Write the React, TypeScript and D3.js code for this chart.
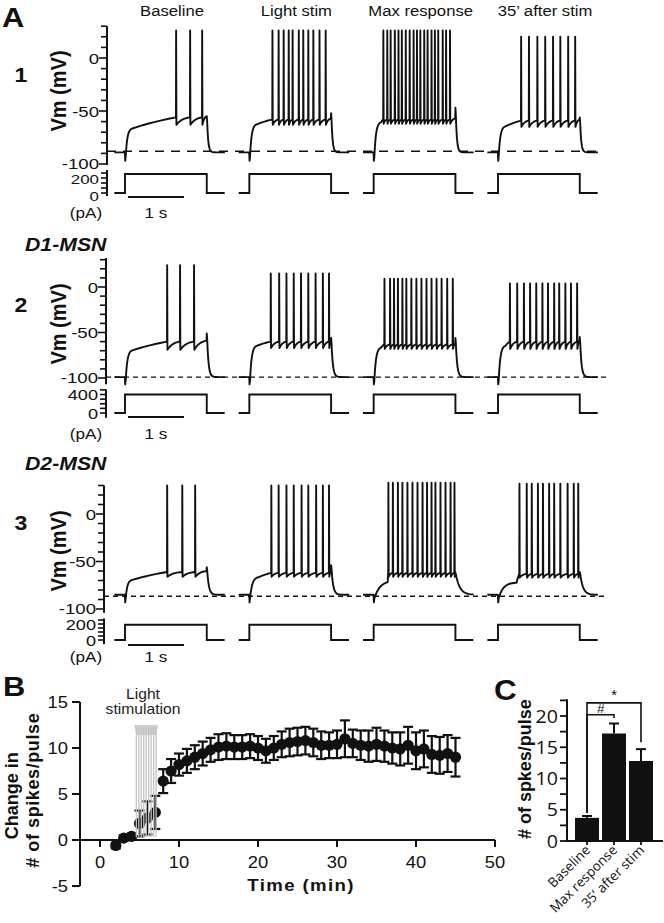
import React from "react";
import * as d3 from "d3";

// ---------------- DATA ----------------
const conditions = ["Baseline", "Light stim", "Max response", "35\u2019 after stim"];
const cellNumbers = ["1", "2", "3"];
const cellTypes = ["", "D1-MSN", "D2-MSN"];

// spike times (s, relative to current-step onset)
const cell1Spikes = [
  [0.91, 1.16, 1.375],
  [0.41, 0.52, 0.61, 0.7, 0.77, 0.88, 0.96, 1.05, 1.14, 1.25, 1.36],
  [0.17, 0.24, 0.3, 0.375, 0.44, 0.5, 0.57, 0.64, 0.71, 0.77, 0.83, 0.9, 0.96, 1.03, 1.09, 1.15, 1.23, 1.29, 1.36],
  [0.41, 0.55, 0.7, 0.84, 0.98, 1.11, 1.25, 1.375],
];
const cell2Spikes = [
  [0.75, 0.98, 1.23],
  [0.38, 0.53, 0.66, 0.79, 0.92, 1.05, 1.18, 1.31, 1.42],
  [0.19, 0.29, 0.36, 0.43, 0.51, 0.58, 0.67, 0.76, 0.85, 0.94, 1.03, 1.12, 1.21, 1.31, 1.41],
  [0.21, 0.34, 0.46, 0.57, 0.68, 0.79, 0.89, 1.0, 1.09, 1.2, 1.3, 1.41],
];
const cell3Spikes = [
  [0.75, 1.02, 1.25],
  [0.39, 0.52, 0.66, 0.79, 0.93, 1.05, 1.19, 1.31, 1.42],
  [0.26, 0.34, 0.43, 0.51, 0.6, 0.69, 0.78, 0.87, 0.95, 1.03, 1.1, 1.19, 1.28, 1.37, 1.44],
  [0.38, 0.51, 0.6, 0.71, 0.8, 0.91, 1.0, 1.11, 1.24, 1.35, 1.43],
];
// membrane potentials (mV) per condition
const cell1Peak = [26, 26, 26, 20];
const cell1Plateau = [-66, -62, -60, -64];
const cell1Thresh = [-56, -58, -58, -59];
const cell1Trough = [-63, -63, -62, -65];
const cell1Offset = [-55, -52, -47, -56];
const cell2Peak = [24, 15, 9, 4];
const cell2Plateau = [-69, -64, -66, -64];
const cell2Thresh = [-60, -60, -63, -60];
const cell2Trough = [-69, -67, -68, -68];
const cell2Offset = [-51, -56, -56, -55];
const cell3Peak = [30, 30, 33, 32];
const cell3Plateau = [-69, -66, -70, -72];
const cell3Thresh = [-61, -62, -62, -63];
const cell3Trough = [-66, -66, -66, -67];
const cell3Offset = [-56, -54, -62, -61];
const cellRest = [-89, -99, -85];
const cellStepPA = [380, 400, 190];
const cellRiseTau = [
  [0.03, 0.03, 0.03, 0.03],
  [0.03, 0.03, 0.03, 0.03],
  [0.03, 0.04, 0.1, 0.08],
];
const cellDecayTau = [
  [0.02, 0.02, 0.02, 0.02],
  [0.025, 0.025, 0.025, 0.025],
  [0.03, 0.03, 0.07, 0.05],
];
const baselineDashMV = [-88, -99, -86.5];

// Panel B
const timeMin = [2, 3, 4, 5, 6, 7, 8, 9, 10, 11, 12, 13, 14, 15, 16, 17, 18, 19, 20, 21, 22, 23, 24, 25, 26, 27, 28, 29, 30, 31, 32, 33, 34, 35, 36, 37, 38, 39, 40, 41, 42, 43, 44, 45];
const spikeChange = [-0.6, 0.2, 0.4, 1.8, 2.4, 3.0, 6.4, 7.5, 8.2, 8.6, 9.0, 9.4, 9.8, 10.1, 10.2, 10.1, 10.1, 10.2, 10.0, 9.7, 10.0, 10.4, 10.6, 10.7, 10.8, 10.6, 10.3, 10.3, 10.4, 11.0, 10.5, 10.3, 10.2, 10.4, 10.2, 10.0, 9.9, 10.3, 9.7, 9.9, 9.3, 9.2, 9.4, 9.0];
const spikeChangeSem = [0.3, 0.3, 0.3, 1.4, 1.8, 1.8, 1.3, 1.3, 1.2, 1.3, 1.3, 1.3, 1.3, 1.4, 1.4, 1.3, 1.3, 1.3, 1.3, 1.3, 1.3, 1.4, 1.5, 1.5, 1.5, 1.5, 1.5, 1.4, 1.5, 2.0, 1.5, 1.6, 1.7, 1.8, 1.7, 1.7, 1.8, 2.0, 2.0, 2.0, 2.0, 2.0, 2.0, 2.1];
const bXTicks = [0, 10, 20, 30, 40, 50];
const bYTicks = [-5, 0, 5, 10, 15];
const lightStimMin = [4.6, 7.1];

// Panel C
const cCategories = ["Baseline", "Max response", "35\u2019 after stim"];
const cMeans = [3.7, 17.2, 12.8];
const cSem = [0.3, 1.6, 1.9];
const cYTicks = [0, 5, 10, 15, 20];
const cBracketLabels = ["#", "*"];
const cBracketTargets = [1, 2];
const cBracketLevels = [20.2, 22.1];
const cBracketDrops = [19.7, 15.8];

// ---------------- LAYOUT ----------------
const ARIAL = "'Liberation Sans', Arial, Helvetica, sans-serif";
const OPEN = "'Open Sans', 'Liberation Sans', sans-serif";
const PRE = 0.19, STEP = 1.46, POST = 0.32;

const rowLayout = [
  { v0: 58, v100: 164, vTop: 30, vBot: -101, axisX: 107, i0: 193, iPerPA: 0.05, iTop: 460, iBot: -60, iTick: 100, iLabels: [200, 0], iLabelDy: [1, 7.5], iLabelSize: 13.5, dash: "9,7", dashEnd: 597, pAy: 218, barY: 197, numY: 82, typeY: 0, vmY: 91 },
  { v0: 287, v100: 378, vTop: 32, vBot: -107, axisX: 106, i0: 413, iPerPA: 0.04625, iTop: 510, iBot: -100, iTick: 100, iLabels: [400, 0], iLabelDy: [5, 6], iLabelSize: 14.5, dash: "5,4", dashEnd: 607, pAy: 439, barY: 417, numY: 312, typeY: 251, vmY: 324 },
  { v0: 514, v100: 609, vTop: 30, vBot: -104, axisX: 104, i0: 640, iPerPA: 0.08, iTop: 270, iBot: -50, iTick: 50, iLabels: [200, 0], iLabelDy: [5.5, 5.5], iLabelSize: 14.5, dash: "5,4", dashEnd: 605, pAy: 662, barY: 645, numY: 530, typeY: 470, vmY: 551 },
];

function Txt(props: any) {
  const { x, y, size, children, anchor = "start", weight = "normal", family = ARIAL, sx = 1.18, rot = 0, italic = false, fill = "#111", ls = 0 } = props;
  const transform = rot
    ? `translate(${x},${y}) rotate(${rot}) scale(1,${sx})`
    : `translate(${x},${y}) scale(${sx},1)`;
  return (
    <text transform={transform} fontSize={size} fontWeight={weight} fontFamily={family} textAnchor={anchor}
      fill={fill} fontStyle={italic ? "italic" : "normal"} letterSpacing={ls}>
      {children}
    </text>
  );
}

function tracePoints(spikes: number[], peak: number, plateau: number, thresh: number, trough: number,
  offset: number, rest: number, riseTau: number, decayTau: number): [number, number][] {
  const pts: [number, number][] = [];
  pts.push([-PRE, rest], [-0.002, rest], [0.004, rest - 8], [0.012, rest - 4]);
  const first = spikes.length ? spikes[0] : STEP;
  const tRiseEnd = Math.min(first - 0.01, 0.012 + 4 * riseTau);
  for (let k = 1; k <= 12; k++) {
    const t = 0.012 + ((tRiseEnd - 0.012) * k) / 12;
    pts.push([t, plateau + (rest - 4 - plateau) * Math.exp(-(t - 0.012) / riseTau)]);
  }
  let t0 = tRiseEnd;
  let v0 = pts[pts.length - 1][1];
  const approach = (t1: number, v1: number, curv: number) => {
    for (let k = 1; k <= 6; k++) {
      const f = k / 6;
      pts.push([t0 + (t1 - t0) * f, v0 + ((v1 - v0) * (1 - Math.exp(-curv * f))) / (1 - Math.exp(-curv))]);
    }
  };
  spikes.forEach((s, i) => {
    approach(s, thresh, i === 0 ? 0.6 : 2.2);
    pts.push([s + 0.003, peak], [s + 0.008, trough]);
    t0 = s + 0.008;
    v0 = trough;
  });
  if (STEP - 0.004 - t0 > 0.005) approach(STEP - 0.004, spikes.length ? thresh + 1 : thresh, spikes.length ? 2.2 : 0.6);
  pts.push([STEP, offset]);
  for (let k = 1; k <= 16; k++) {
    const t = STEP + 0.004 + POST * Math.pow(k / 16, 1.6);
    pts.push([t, rest + (offset - rest) * Math.exp(-(t - STEP - 0.004) / decayTau)]);
  }
  return pts;
}

export default function App() {
  const cells = [
    { spikes: cell1Spikes, peak: cell1Peak, plateau: cell1Plateau, thresh: cell1Thresh, trough: cell1Trough, offset: cell1Offset },
    { spikes: cell2Spikes, peak: cell2Peak, plateau: cell2Plateau, thresh: cell2Thresh, trough: cell2Trough, offset: cell2Offset },
    { spikes: cell3Spikes, peak: cell3Peak, plateau: cell3Plateau, thresh: cell3Thresh, trough: cell3Trough, offset: cell3Offset },
  ];
  const onsetX = d3.scalePoint<string>().domain(conditions).range([125, 498]);
  const tScale = d3.scaleLinear().domain([0, 1]).range([0, 56]);

  // Panel B scales
  const xB = d3.scaleLinear().domain([0, 50]).range([100, 495]);
  const yB = d3.scaleLinear().domain([-5, 15]).range([886, 702]);
  const bAxisX = 80;

  // Panel C scales
  const xC = d3.scaleBand<string>().domain(cCategories).range([575, 653]).paddingInner(0.111).paddingOuter(0);
  const yC = d3.scaleLinear().domain([0, 20]).range([841, 716]);
  const cAxisX = 567;
  const cTop = 22.7;

  const ink = "#111";

  return (
    <svg width={664} height={923} style={{ position: "absolute", left: 0, top: 0, background: "#fff" }}>
      <rect width={664} height={923} fill="#fff" />
      {/* ---------- Panel A ---------- */}
      <Txt x={2} y={27} size={28} weight="bold" sx={1.1}>A</Txt>
      {conditions.map((c) => (
        <Txt key={c} x={(onsetX(c) as number) + 47} y={16} size={14.5} anchor="middle" sx={1.15}>{c}</Txt>
      ))}
      {rowLayout.map((L, r) => {
        const cell = cells[r];
        const yV = d3.scaleLinear().domain([0, -100]).range([L.v0, L.v100]);
        const yI = d3.scaleLinear().domain([0, 100]).range([L.i0, L.i0 - 100 * L.iPerPA]);
        const vTicks = d3.range(-100, L.vTop + 1, 10);
        const iTicks = d3.range(0, L.iTop + 1, L.iTick);
        const line = d3.line<[number, number]>();
        return (
          <g key={r}>
            <Txt x={21} y={L.numY} size={21} weight="bold" anchor="middle" sx={1.1}>{cellNumbers[r]}</Txt>
            {cellTypes[r] && (
              <Txt x={25} y={L.typeY} size={18} weight="bold" italic sx={1.18}>{cellTypes[r]}</Txt>
            )}
            <Txt x={66} y={L.vmY} size={20} weight="bold" anchor="middle" rot={-90} sx={1.12}>Vm (mV)</Txt>
            {/* voltage axis */}
            <line x1={L.axisX} x2={L.axisX} y1={yV(L.vTop)} y2={yV(L.vBot)} stroke={ink} strokeWidth={2} />
            {vTicks.map((v) => (
              <line key={v} x1={L.axisX - (v % 50 === 0 ? 8 : 6)} x2={L.axisX} y1={yV(v)} y2={yV(v)} stroke={ink} strokeWidth={1.6} />
            ))}
            {[0, -50, -100].map((v) => (
              <Txt key={v} x={L.axisX - 8} y={yV(v) + (v === -100 ? 4.5 : 5.5)} size={15.5} anchor="end" sx={1.2}>{String(v)}</Txt>
            ))}
            {/* current axis */}
            <line x1={L.axisX} x2={L.axisX} y1={yI(L.iTop)} y2={yI(L.iBot)} stroke={ink} strokeWidth={2} />
            {iTicks.map((v) => (
              <line key={v} x1={L.axisX - 6} x2={L.axisX} y1={yI(v)} y2={yI(v)} stroke={ink} strokeWidth={1.6} />
            ))}
            {L.iLabels.map((v, j) => (
              <Txt key={v} x={L.axisX - 8} y={yI(v) + L.iLabelDy[j]} size={L.iLabelSize} anchor="end" sx={1.25}>{String(v)}</Txt>
            ))}
            <Txt x={86} y={L.pAy} size={14.5} anchor="middle" sx={1.18}>(pA)</Txt>
            {/* scale bar */}
            <line x1={128} x2={128 + tScale(1)} y1={L.barY} y2={L.barY} stroke={ink} strokeWidth={2} />
            <Txt x={128 + tScale(0.5)} y={L.pAy} size={14.5} anchor="middle" sx={1.18}>1 s</Txt>
            {/* dashed resting line */}
            <line x1={L.axisX} x2={L.dashEnd} y1={yV(baselineDashMV[r])} y2={yV(baselineDashMV[r])}
              stroke={ink} strokeWidth={1.4} strokeDasharray={L.dash} />
            {conditions.map((c, k) => {
              const ox = onsetX(c) as number;
              const pts = tracePoints(cell.spikes[k], cell.peak[k], cell.plateau[k], cell.thresh[k], cell.trough[k],
                cell.offset[k], cellRest[r], cellRiseTau[r][k], cellDecayTau[r][k]);
              const vPath = line(pts.map(([t, v]) => [ox + tScale(t), yV(v)] as [number, number]));
              const iPts: [number, number][] = [[-PRE, 0], [0, 0], [0, cellStepPA[r]], [STEP, cellStepPA[r]], [STEP, 0], [STEP + POST, 0]];
              const iPath = line(iPts.map(([t, a]) => [ox + tScale(t), yI(a)] as [number, number]));
              return (
                <g key={c}>
                  <path d={vPath || ""} fill="none" stroke={ink} strokeWidth={1.9} strokeLinejoin="round" />
                  <path d={iPath || ""} fill="none" stroke={ink} strokeWidth={1.9} />
                </g>
              );
            })}
          </g>
        );
      })}

      {/* ---------- Panel B ---------- */}
      <Txt x={3} y={696} size={28} weight="bold" sx={1.1}>B</Txt>
      <Txt x={18} y={yB(4.8)} size={18} weight="bold" anchor="middle" rot={-90} sx={1.05}>Change in</Txt>
      <Txt x={39} y={yB(5.4)} size={18} weight="bold" anchor="middle" rot={-90} sx={1.05} ls={0.6}># of spikes/pulse</Txt>
      <line x1={bAxisX} x2={bAxisX} y1={yB(15)} y2={yB(-5)} stroke={ink} strokeWidth={2} />
      {bYTicks.map((v) => (
        <g key={v}>
          <line x1={bAxisX - 8} x2={bAxisX} y1={yB(v)} y2={yB(v)} stroke={ink} strokeWidth={2} />
          <Txt x={bAxisX - 12} y={yB(v) + 6} size={17} anchor="end" sx={1.08}>{String(v)}</Txt>
        </g>
      ))}
      <line x1={bAxisX} x2={xB(50)} y1={yB(0)} y2={yB(0)} stroke={ink} strokeWidth={2} />
      {bXTicks.map((v) => (
        <g key={v}>
          <line x1={xB(v)} x2={xB(v)} y1={yB(0)} y2={yB(0) + 7} stroke={ink} strokeWidth={2} />
          <Txt x={xB(v)} y={868} size={17} anchor="middle" sx={1.08}>{String(v)}</Txt>
        </g>
      ))}
      <Txt x={301} y={891} size={16.5} weight="bold" anchor="middle" sx={1.13} ls={1.2}>Time (min)</Txt>
      {/* error bars */}
      {timeMin.map((t, i) => {
        const x = xB(t);
        const hi = yB(spikeChange[i] + spikeChangeSem[i]);
        const lo = yB(spikeChange[i] - spikeChangeSem[i]);
        return (
          <g key={t} stroke={ink} strokeWidth={2.2}>
            <line x1={x} x2={x} y1={hi} y2={lo} />
            <line x1={x - 5} x2={x + 5} y1={hi} y2={hi} />
            <line x1={x - 5} x2={x + 5} y1={lo} y2={lo} />
          </g>
        );
      })}
      {timeMin.map((t, i) => (
        <circle key={t} cx={xB(t)} cy={yB(spikeChange[i])} r={5.6} fill={ink} />
      ))}
      {/* light stimulation marker */}
      <polygon
        points={`${xB(lightStimMin[0]) - 2},${yB(12.5)} ${xB(lightStimMin[1]) + 2},${yB(12.5)} ${xB(lightStimMin[1])},${yB(11.4)} ${xB(lightStimMin[0])},${yB(11.4)}`}
        fill="#cfcfcf" />
      {d3.range(0, 9).map((k) => {
        const x = xB(lightStimMin[0]) + ((xB(lightStimMin[1]) - xB(lightStimMin[0])) * k) / 8;
        return <line key={k} x1={x} x2={x} y1={yB(12.3)} y2={yB(0.3)} stroke="#c4c4c4" strokeWidth={1.3} />;
      })}
      <Txt x={143} y={699} size={14.5} anchor="middle" sx={1.08} fill="#222">Light</Txt>
      <Txt x={143} y={714} size={14.5} anchor="middle" sx={1.08} fill="#222">stimulation</Txt>

      {/* ---------- Panel C ---------- */}
      <Txt x={494} y={700} size={30} weight="bold" sx={1.05}>C</Txt>
      <Txt x={531} y={yC(11.5)} size={18} weight="bold" anchor="middle" rot={-90} sx={1.05}># of spkes/pulse</Txt>
      <line x1={cAxisX} x2={cAxisX} y1={yC(cTop)} y2={yC(0)} stroke={ink} strokeWidth={2} />
      {d3.range(0, 22.6, 2.5).map((v) => (
        <line key={v} x1={cAxisX - 7} x2={cAxisX} y1={yC(v)} y2={yC(v)} stroke={ink} strokeWidth={1.8} />
      ))}
      {cYTicks.map((v) => (
        <Txt key={v} x={cAxisX - 9} y={yC(v) + 6.5} size={17.5} anchor="end" family={OPEN} sx={1.12}>{String(v)}</Txt>
      ))}
      <line x1={cAxisX} x2={663} y1={yC(0)} y2={yC(0)} stroke={ink} strokeWidth={2} />
      {cCategories.map((c, i) => {
        const x0 = xC(c) as number;
        const cx = x0 + xC.bandwidth() / 2;
        return (
          <g key={c}>
            <rect x={x0} y={yC(cMeans[i])} width={xC.bandwidth()} height={yC(0) - yC(cMeans[i])} fill={ink} />
            <line x1={cx} x2={cx} y1={yC(cMeans[i])} y2={yC(cMeans[i] + cSem[i])} stroke={ink} strokeWidth={2} />
            <line x1={cx - 5} x2={cx + 5} y1={yC(cMeans[i] + cSem[i])} y2={yC(cMeans[i] + cSem[i])} stroke={ink} strokeWidth={2} />
            <line x1={cx} x2={cx} y1={yC(0)} y2={yC(0) + 4} stroke={ink} strokeWidth={1.8} />
            <Txt x={cx + 4} y={851} size={13.5} anchor="end" family={OPEN} rot={-45} sx={1}>{c}</Txt>
          </g>
        );
      })}
      {cBracketLabels.map((lab, j) => {
        const xl = (xC(cCategories[0]) as number) + xC.bandwidth() / 2;
        const xr = (xC(cCategories[cBracketTargets[j]]) as number) + xC.bandwidth() / 2;
        const yl = yC(cBracketLevels[j]);
        return (
          <g key={lab}>
            <path d={`M${xl},${yC(4.5)} L${xl},${yl} L${xr},${yl} L${xr},${yC(cBracketDrops[j])}`} fill="none" stroke={ink} strokeWidth={1.6} />
            <Txt x={(xl + xr) / 2} y={yl - (j === 0 ? 2 : 3)} size={j === 0 ? 13 : 15} anchor="middle" sx={1.05} italic={j === 0}>{lab}</Txt>
          </g>
        );
      })}
    </svg>
  );
}
